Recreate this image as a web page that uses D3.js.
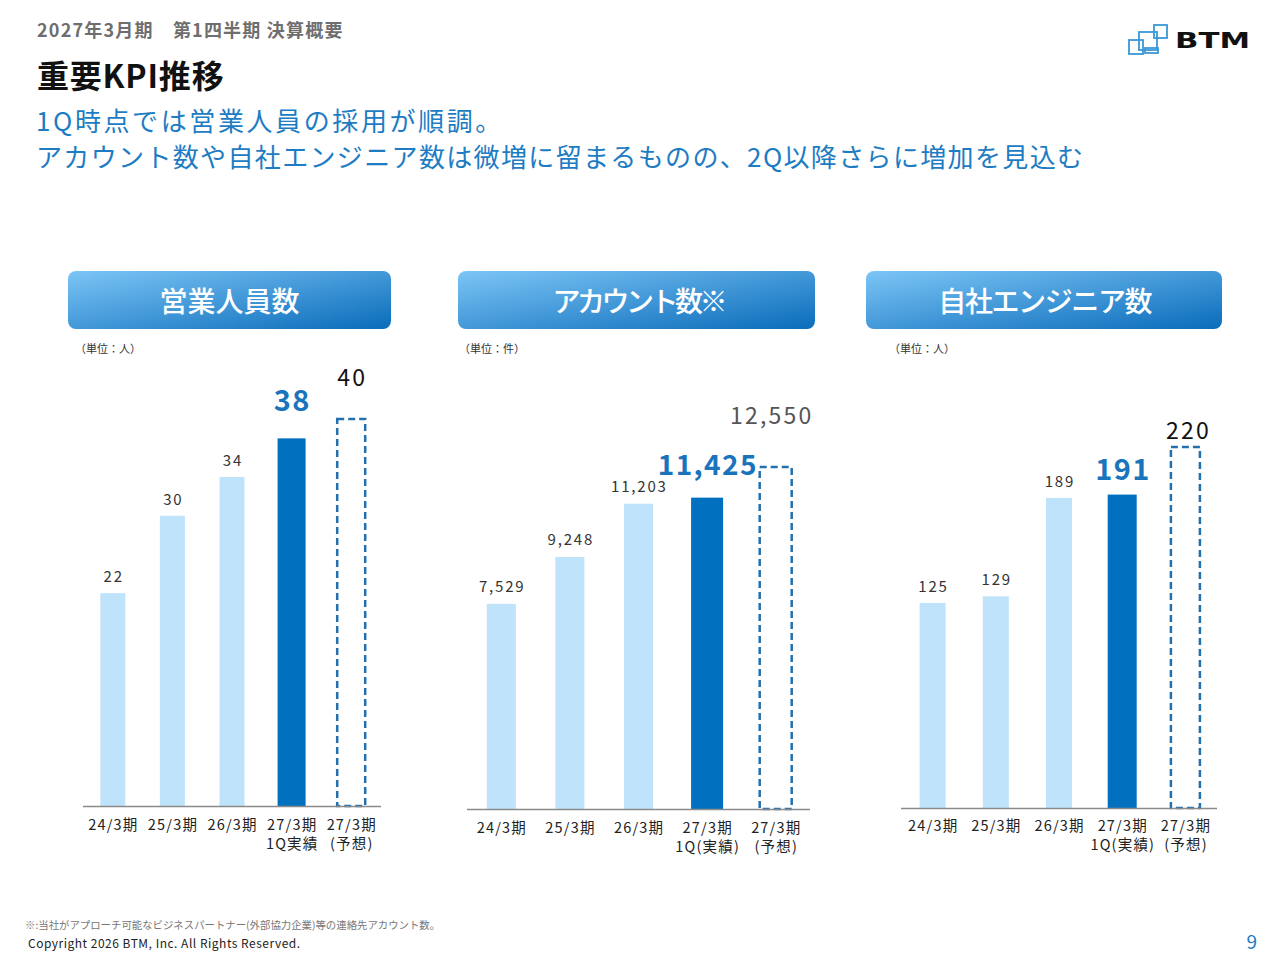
<!DOCTYPE html>
<html><head><meta charset="utf-8">
<script src="https://cdn.jsdelivr.net/npm/d3@7"></script>
<style>
html,body{margin:0;padding:0;background:#fff;}
svg{display:block;font-family:"Noto Sans CJK JP","Noto Sans",sans-serif;}
</style></head>
<body>
<svg id="chart" width="1280" height="960"></svg>
<script>
// ---- data ----
const salesCategories = [["24/3期"],["25/3期"],["26/3期"],["27/3期","1Q実績"],["27/3期","(予想)"]];
const salesValues = [22, 30, 34, 38, 40];
const accountCategories = [["24/3期"],["25/3期"],["26/3期"],["27/3期","1Q(実績)"],["27/3期","(予想)"]];
const accountValues = [7529, 9248, 11203, 11425, 12550];
const engineerCategories = [["24/3期"],["25/3期"],["26/3期"],["27/3期","1Q(実績)"],["27/3期","(予想)"]];
const engineerValues = [125, 129, 189, 191, 220];
const barKinds = ["past","past","past","actual","forecast"];
const panelTitles = ["営業人員数","アカウント数※","自社エンジニア数"];
const unitLabels = ["（単位：人）","（単位：件）","（単位：人）"];
const subtitleLines = ["1Q時点では営業人員の採用が順調。","アカウント数や自社エンジニア数は微増に留まるものの、2Q以降さらに増加を見込む"];

// ---- layout ----
const panels = [
  {cats:salesCategories, vals:salesValues, title:panelTitles[0], titleLs:0, unit:unitLabels[0],
   box:[68,271,323,58], unitX:75, x0:83, x1:381, base:806, top:419, max:40, bw:25, ext:3,
   off:{past:11, actual:27, forecast:33}, fsz:{past:15, actual:29, forecast:23}, fdx:0, labY:825},
  {cats:accountCategories, vals:accountValues, title:panelTitles[1], titleLs:-3.5, unit:unitLabels[1],
   box:[458,271,357,58], unitX:459, x0:467, x1:810, base:809, top:467, max:12550, bw:29, ext:3,
   off:{past:12, actual:23, forecast:43}, fsz:{past:15, actual:28, forecast:23}, fdx:-5, labY:828},
  {cats:engineerCategories, vals:engineerValues, title:panelTitles[2], titleLs:-1.4, unit:unitLabels[2],
   box:[866,271,356,58], unitX:889, x0:901, x1:1217, base:808, top:447, max:220, bw:26, ext:3,
   off:{past:11, actual:15, forecast:8}, fsz:{past:15, actual:29, forecast:23}, fdx:2, labY:826}
];

const svg = d3.select("#chart");
const defs = svg.append("defs");
const grad = defs.append("linearGradient").attr("id","hdr").attr("x1","0%").attr("y1","0%").attr("x2","100%").attr("y2","100%");
grad.append("stop").attr("offset","0%").attr("stop-color","#7cc5f6");
grad.append("stop").attr("offset","100%").attr("stop-color","#0a6cba");

// header
svg.append("text").attr("x",37).attr("y",37).attr("font-size",18).attr("font-weight",700)
  .attr("fill","#6e6e6e").attr("letter-spacing",1.2).text("2027年3月期　第1四半期 決算概要");
svg.append("text").attr("x",37).attr("y",88).attr("font-size",32).attr("font-weight",700)
  .attr("fill","#111").attr("letter-spacing",0.8).text("重要KPI推移");
subtitleLines.forEach((ln,i) => {
  svg.append("text").attr("x",36).attr("y",131+i*36).attr("font-size",26)
    .attr("letter-spacing", i===0 ? 2.6 : 1.35).attr("fill","#1d7cc3").text(ln);
});

// logo
const logo = svg.append("g").attr("fill","none").attr("stroke","#3b98d8").attr("stroke-width",1.8);
logo.append("rect").attr("x",1129).attr("y",40).attr("width",14).attr("height",14);
logo.append("rect").attr("x",1139).attr("y",32).attr("width",18).attr("height",18);
logo.append("rect").attr("x",1154).attr("y",25).attr("width",13).attr("height",13);
logo.append("rect").attr("x",1145).attr("y",48).attr("width",13).attr("height",5);
svg.append("text").attr("x",1175).attr("y",48).attr("font-size",21).attr("font-weight",900)
  .attr("font-family","'DejaVu Sans','Liberation Sans',sans-serif")
  .attr("textLength",75).attr("lengthAdjust","spacingAndGlyphs")
  .attr("fill","#111").text("BTM");

panels.forEach(p => {
  const g = svg.append("g");
  // title box
  g.append("rect").attr("x",p.box[0]).attr("y",p.box[1]).attr("width",p.box[2]).attr("height",p.box[3])
    .attr("rx",8).attr("fill","url(#hdr)");
  g.append("text").attr("x",p.box[0]+p.box[2]/2 - p.titleLs/2).attr("y",p.box[1]+41).attr("text-anchor","middle")
    .attr("font-size",28).attr("font-weight",500).attr("letter-spacing",p.titleLs).attr("fill","#fff").text(p.title);
  g.append("text").attr("x",p.unitX).attr("y",353).attr("font-size",11).attr("fill","#333").text(p.unit);

  const x = d3.scaleBand().domain(d3.range(p.vals.length)).range([p.x0,p.x1]).paddingInner(0.58).paddingOuter(0.29);
  const y = d3.scaleLinear().domain([0,p.max]).range([p.base,p.top]);

  p.vals.forEach((v,i) => {
    const kind = barKinds[i];
    const cx = x(i) + x.bandwidth()/2;
    const w = kind==="past" ? p.bw : p.bw + p.ext;
    if (kind === "forecast") {
      g.append("rect").attr("x",cx-w/2).attr("y",y(v)).attr("width",w).attr("height",y(0)-y(v))
        .attr("fill","none").attr("stroke","#2470ae").attr("stroke-width",2.5).attr("stroke-dasharray","7,4");
    } else {
      g.append("rect").attr("x",cx-w/2).attr("y",y(v)).attr("width",w).attr("height",y(0)-y(v))
        .attr("fill", kind==="actual" ? "#0070bf" : "#bfe3fb");
    }
    const ls = kind==="past" ? 1.8 : (kind==="actual" ? 1.4 : 2.2);
    const t = g.append("text").attr("x",cx + ls/2 + (kind==="forecast" ? p.fdx : 0)).attr("y",y(v)-p.off[kind])
      .attr("text-anchor","middle").attr("font-size",p.fsz[kind]).attr("letter-spacing", ls)
      .text(d3.format(",")(v));
    if (kind==="actual") t.attr("fill","#1a74bb").attr("font-weight",700);
    else if (kind==="forecast") t.attr("fill", p.max>1000 ? "#555" : "#111");
    else t.attr("fill","#333");
  });

  // axis line
  g.append("line").attr("x1",p.x0).attr("x2",p.x1).attr("y1",p.base+0.5).attr("y2",p.base+0.5)
    .attr("stroke","#8a8a8a").attr("stroke-width",1.5);

  p.cats.forEach((lines,i) => {
    const cx = x(i) + x.bandwidth()/2;
    lines.forEach((ln,j) => {
      const ls = 1.2;
      g.append("text").attr("x",cx+ls/2).attr("y",p.labY+5+j*19).attr("text-anchor","middle")
        .attr("font-size",14.5).attr("fill","#222").attr("letter-spacing",ls).text(ln);
    });
  });
});

// footer
svg.append("text").attr("x",25).attr("y",929).attr("font-size",10.4).attr("fill","#777")
  .text("※:当社がアプローチ可能なビジネスパートナー(外部協力企業)等の連絡先アカウント数。");
svg.append("text").attr("x",28).attr("y",948).attr("font-size",12).attr("fill","#222").attr("letter-spacing",0.5)
  .text("Copyright 2026 BTM, Inc. All Rights Reserved.");
svg.append("text").attr("x",1257).attr("y",949).attr("text-anchor","end").attr("font-size",19)
  .attr("fill","#1d7cc3").text("9");
</script>
</body></html>
